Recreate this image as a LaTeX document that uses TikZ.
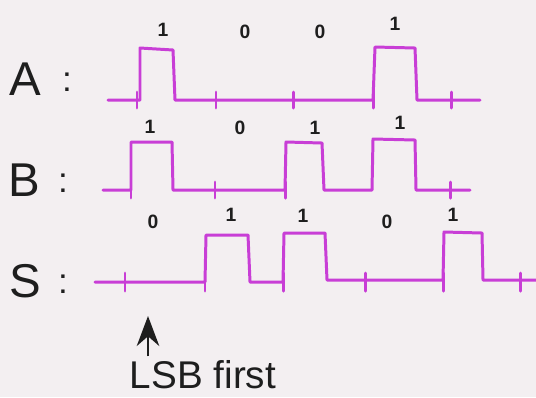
\documentclass[tikz,border=0pt]{standalone}
\usepackage{fontspec}
\setmainfont{Liberation Sans}
\usepackage{xcolor}
\usetikzlibrary{arrows.meta, positioning, calc}
\definecolor{paper}{RGB}{243,239,241}
\definecolor{wavecol}{RGB}{200,62,214}
\definecolor{ink}{RGB}{30,30,30}
\tikzset{
  wave/.style={draw=wavecol, line width=1.7pt, line join=round, line cap=round},
  clocktick/.style={draw=wavecol, line width=1.7pt, line cap=round},
  siglbl/.style={text=ink, inner sep=0pt, font=\fontsize{27}{29}\selectfont},
  colonlbl/.style={text=ink, inner sep=0pt, font=\fontsize{20}{22}\selectfont},
  bitlbl/.style={text=ink, inner sep=0pt, font=\bfseries\fontsize{11}{12}\selectfont},
  note/.style={text=ink, inner sep=0pt, font=\fontsize{22}{24}\selectfont},
  arrow/.style={-{Stealth[length=6mm,width=4.5mm]}, draw=ink, line width=1.4pt},
}

\begin{document}
\begin{tikzpicture}[x=0.02cm, y=-0.02cm]
\fill[paper] (0,0) rectangle (536,397);
\useasboundingbox (0,0) rectangle (536,397);
\node[siglbl] (lblA) at (25,79) {A};
\node[colonlbl] (colA) at (67,82) {:};
\node[siglbl] (lblB) at (24,180) {B};
\node[colonlbl] (colB) at (63,183) {:};
\node[siglbl] (lblS) at (25,281) {S};
\node[colonlbl] (colS) at (63,284) {:};
\draw[wave] (108,100) -- (140,100) -- (140,48) -- (173,50) -- (175,100) -- (373,100)
  -- (375,47) -- (415,48) -- (417,100) -- (480,100);
\foreach \x in {137,216,293,373,451} \draw[clocktick] (\x,92) -- (\x,108);
\draw[wave] (103,190) -- (131,190) -- (131,142) -- (172,142) -- (173,190) -- (285,190)
  -- (286,142) -- (322,143) -- (324,190) -- (372,190) -- (373,139) -- (415,140) -- (416,190) -- (470,190);
\foreach \x in {131,215,285,450} \draw[clocktick] (\x,182) -- (\x,198);
\draw[wave] (95,282) -- (205,282) -- (206,235) -- (248,235) -- (250,282) -- (283,282)
  -- (284,233) -- (325,233) -- (327,280) -- (443,280) -- (444,232) -- (482,233) -- (483,280) -- (536,280);
\foreach \x in {125,205,283,365,443,520} \draw[clocktick] (\x,273) -- (\x,291);
\node[bitlbl] (a1) at (163,30) {1};
\node[bitlbl] (a2) at (245,32) {0};
\node[bitlbl] (a3) at (320,32) {0};
\node[bitlbl] (a4) at (395,24) {1};
\node[bitlbl] (b1) at (150,127) {1};
\node[bitlbl] (b2) at (240,128) {0};
\node[bitlbl] (b3) at (315,128) {1};
\node[bitlbl] (b4) at (400,123) {1};
\node[bitlbl] (s1) at (153,222) {0};
\node[bitlbl] (s2) at (231,215) {1};
\node[bitlbl] (s3) at (303,216) {1};
\node[bitlbl] (s4) at (387,222) {0};
\node[bitlbl] (s5) at (453,215) {1};
\node[note] (lsb) at (203,375) {LSB first};
\coordinate (lsbtip) at (148,316);
\draw[arrow] (lsbtip |- lsb.north) ++(0,-4) -- (lsbtip);
\end{tikzpicture}
\end{document}
